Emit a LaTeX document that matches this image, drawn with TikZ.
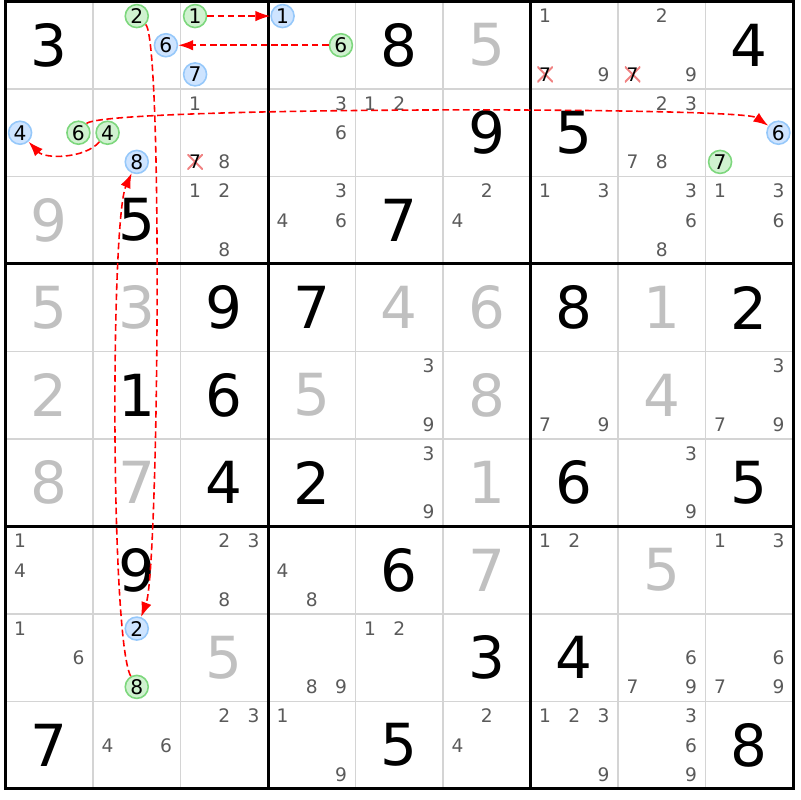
\documentclass[tikz,border=0pt]{standalone}
\usepackage{fontspec}
\setmainfont{DejaVu Sans}
\usepackage{xcolor}
\usepackage{tikz}
\usetikzlibrary{arrows.meta}

\definecolor{solvedgray}{RGB}{192,192,192}
\definecolor{candgray}{RGB}{90,90,90}
\definecolor{gridgray}{RGB}{212,212,212}
\definecolor{onfill}{RGB}{208,242,208}
\definecolor{ondraw}{RGB}{125,215,125}
\definecolor{offfill}{RGB}{206,228,255}
\definecolor{offdraw}{RGB}{150,200,250}
\definecolor{elimred}{RGB}{240,130,130}

% candidate #4 of cell (row #2, column #3)
\newcommand\placecand[4][cand]{%
  \pgfmathsetmacro\candx{#3-1+(mod(#4-1,3)+0.5)/3}%
  \pgfmathsetmacro\candy{#2-1+(floor((#4-1)/3)+0.5)/3}%
  \node[#1] (r#2c#3n#4) at (\candx,\candy) {#4};}

\begin{document}
\begin{tikzpicture}[x=1.75cm,y=-1.75cm,>={Latex[length=8.5pt,width=6pt]}]
	  \tikzset{given/.style={font=\fontsize{33}{36}\selectfont},
	  	solved/.style={given,text=solvedgray},
	  	cand/.style={font=\fontsize{10.6}{12}\selectfont,text=candgray,inner sep=0pt},
	  	oncand/.style={cand,text=black,circle,draw=ondraw,fill=onfill,line width=0.9pt,minimum size=0.46cm,font=\fontsize{11.5}{12}\selectfont},
	  	offcand/.style={oncand,draw=offdraw,fill=offfill},
	  	elim/.style={cand,text=black,minimum size=0.31cm,
	  		path picture={\draw[elimred,line width=1.1pt]
	  			(path picture bounding box.south west) -- (path picture bounding box.north east)
	  			(path picture bounding box.north west) -- (path picture bounding box.south east);}},
	  	link/.style={->,red,line width=0.9pt,dash pattern=on 3.8pt off 2pt},
	  }
	  \useasboundingbox (-0.063,-0.017) rectangle (9.08,9.126);

	  %% grid
	  \foreach \i in {1,2,4,5,7,8}
	  	\draw[gridgray,line width=0.8pt] (\i,0) -- (\i,9) (0,\i) -- (9,\i);
	  \foreach \i in {3,6}
	  	\draw[line width=1.7pt] (\i,0) -- (\i,9) (0,\i) -- (9,\i);
	  \draw[line width=1.7pt] (0,0) rectangle (9,9);

	  %% digits
	  \foreach \row/\col/\dig in {1/1/3,1/5/8,1/9/4,2/6/9,2/7/5,3/2/5,3/5/7,
	  	4/3/9,4/4/7,4/7/8,4/9/2,5/2/1,5/3/6,6/3/4,6/4/2,6/7/6,6/9/5,
	  	7/2/9,7/5/6,8/6/3,8/7/4,9/1/7,9/5/5,9/9/8}
	  	\node[given] (g\row\col) at (\col-0.5,\row-0.5) {\dig};
	  \foreach \row/\col/\dig in {1/6/5,3/1/9,4/1/5,4/2/3,4/5/4,4/6/6,4/8/1,
	  	5/1/2,5/4/5,5/6/8,5/8/4,6/1/8,6/2/7,6/6/1,7/6/7,7/8/5,8/3/5}
	  	\node[solved] (s\row\col) at (\col-0.5,\row-0.5) {\dig};

	  %% candidates
	  \foreach \row/\col/\digs in {1/7/{1,9},1/8/{2,9},2/3/{1,8},2/4/{3,6},2/5/{1,2},
	  	2/8/{2,3,7,8},3/3/{1,2,8},3/4/{3,4,6},3/6/{2,4},3/7/{1,3},3/8/{3,6,8},
	  	3/9/{1,3,6},5/5/{3,9},5/7/{7,9},5/9/{3,7,9},6/5/{3,9},6/8/{3,9},
	  	7/1/{1,4},7/3/{2,3,8},7/4/{4,8},7/7/{1,2},7/9/{1,3},8/1/{1,6},8/4/{8,9},
	  	8/5/{1,2},8/8/{6,7,9},8/9/{6,7,9},9/2/{4,6},9/3/{2,3},9/4/{1,9},
	  	9/6/{2,4},9/7/{1,2,3,9},9/8/{3,6,9}}
	  	{\foreach \dig in \digs {\placecand{\row}{\col}{\dig}}}
	  \placecand[elim]{1}{7}{7}
	  \placecand[elim]{1}{8}{7}
	  \placecand[elim]{2}{3}{7}
	  \placecand[oncand]{1}{2}{2}
	  \placecand[offcand]{1}{2}{6}
	  \placecand[oncand]{1}{3}{1}
	  \placecand[offcand]{1}{3}{7}
	  \placecand[offcand]{1}{4}{1}
	  \placecand[oncand]{1}{4}{6}
	  \placecand[offcand]{2}{1}{4}
	  \placecand[oncand]{2}{1}{6}
	  \placecand[oncand]{2}{2}{4}
	  \placecand[offcand]{2}{2}{8}
	  \placecand[offcand]{2}{9}{6}
	  \placecand[oncand]{2}{9}{7}
	  \placecand[offcand]{8}{2}{2}
	  \placecand[oncand]{8}{2}{8}

	  %% paths
	  \draw[link] (r1c3n1) -- (r1c4n1);
	  \draw[link] (r1c4n6) -- (r1c2n6);
	  \draw[link] (r1c2n2) .. controls (1.8,0.45) and (1.75,6.5) .. (r8c2n2);
	  \draw[link] (r8c2n8) .. controls (1.2,7.3) and (1.2,2.5) .. (r2c2n8);
	  \draw[link] (r2c1n6) .. controls (1.1,1.2) and (8.4,1.2) .. (r2c9n6);
	  \draw[link] (r2c2n4) .. controls (0.9,1.8) and (0.45,1.8) .. (r2c1n4);
\end{tikzpicture}
\end{document}
